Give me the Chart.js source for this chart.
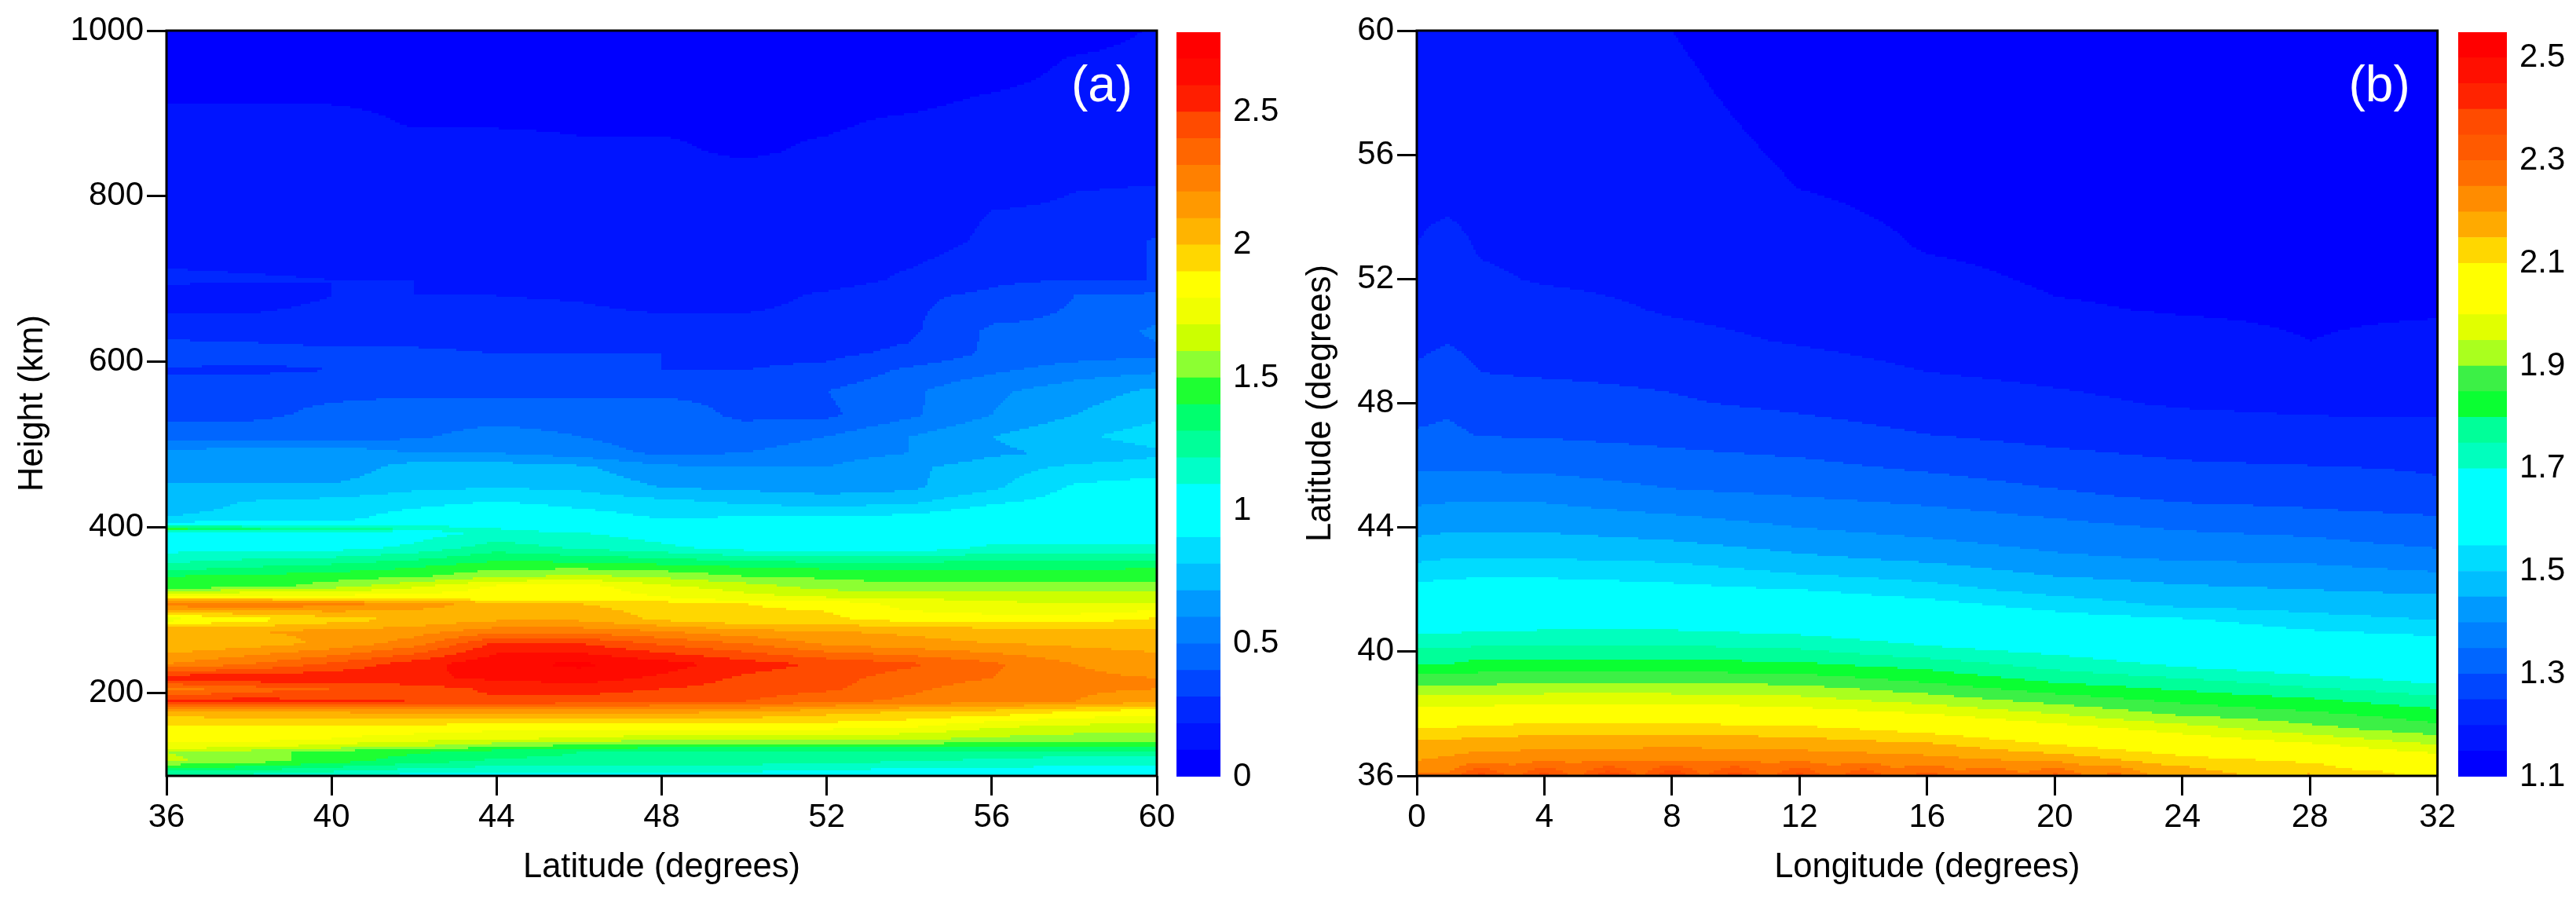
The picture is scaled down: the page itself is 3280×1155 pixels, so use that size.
<!DOCTYPE html>
<html>
<head>
<meta charset="utf-8">
<title>Contour panels</title>
<script src="https://cdn.jsdelivr.net/npm/chart.js@4"></script>
<style>
  html, body { margin: 0; padding: 0; background: #fff; }
  body { width: 3280px; height: 1155px; position: relative; overflow: hidden; }
  canvas { position: absolute; top: 0; }
</style>
</head>
<body>
<canvas id="panelA" width="1500" height="1155" style="left:0"></canvas>
<canvas id="barA" width="130" height="1155" style="left:1498px"></canvas>
<canvas id="panelB" width="1490" height="1155" style="left:1640px"></canvas>
<canvas id="barB" width="150" height="1155" style="left:3130px"></canvas>
<script>
// panel (a): height vs latitude
const latitudes = [36, 38, 40, 42, 44, 46, 48, 50, 52, 54, 56, 58, 60];
const heights = [100, 118, 129, 135, 145, 160, 178, 190, 205, 218, 235, 260, 275, 289, 308, 314, 329, 341, 354, 376, 394, 399, 404, 410, 428, 448, 473, 490, 510, 536, 565, 590, 610, 637, 680, 699, 746, 783, 805, 855, 891, 917, 964, 1000];
const valuesA = [
  [1.15, 1.15, 1.1, 1.05, 1.05, 1.05, 1.05, 1.05, 1.0, 1.0, 1.0, 1.0, 1.0],
  [1.62, 1.55, 1.45, 1.35, 1.28, 1.28, 1.28, 1.25, 1.25, 1.2, 1.18, 1.15, 1.15],
  [1.6, 1.55, 1.45, 1.42, 1.35, 1.3, 1.3, 1.3, 1.3, 1.3, 1.28, 1.25, 1.25],
  [1.75, 1.72, 1.65, 1.6, 1.5, 1.45, 1.42, 1.42, 1.42, 1.42, 1.42, 1.42, 1.42],
  [1.85, 1.85, 1.8, 1.75, 1.72, 1.68, 1.65, 1.65, 1.65, 1.62, 1.58, 1.55, 1.55],
  [1.88, 1.88, 1.88, 1.88, 1.85, 1.85, 1.85, 1.85, 1.85, 1.82, 1.72, 1.68, 1.65],
  [2.05, 2.12, 2.12, 2.13, 2.15, 2.15, 2.13, 2.12, 2.05, 2.0, 1.98, 1.9, 1.85],
  [2.55, 2.55, 2.52, 2.5, 2.48, 2.45, 2.42, 2.4, 2.32, 2.28, 2.22, 2.2, 2.12],
  [2.25, 2.35, 2.4, 2.45, 2.52, 2.55, 2.5, 2.46, 2.42, 2.32, 2.25, 2.22, 2.2],
  [2.58, 2.58, 2.58, 2.58, 2.62, 2.65, 2.58, 2.48, 2.44, 2.35, 2.3, 2.22, 2.2],
  [2.2, 2.3, 2.42, 2.55, 2.68, 2.72, 2.65, 2.55, 2.48, 2.42, 2.32, 2.2, 2.15],
  [2.0, 2.05, 2.12, 2.25, 2.52, 2.5, 2.38, 2.3, 2.18, 2.13, 2.1, 2.08, 2.06],
  [2.1, 2.1, 2.12, 2.15, 2.25, 2.25, 2.2, 2.12, 2.1, 2.08, 2.05, 2.02, 2.02],
  [1.75, 1.85, 1.95, 2.02, 2.08, 2.08, 1.98, 1.92, 1.92, 1.86, 1.84, 1.85, 1.92],
  [2.3, 2.3, 2.25, 2.15, 2.05, 2.0, 1.95, 1.9, 1.88, 1.75, 1.72, 1.7, 1.7],
  [1.95, 1.95, 1.9, 1.88, 1.85, 1.85, 1.82, 1.75, 1.72, 1.7, 1.68, 1.66, 1.65],
  [1.42, 1.45, 1.55, 1.68, 1.82, 1.85, 1.72, 1.65, 1.55, 1.52, 1.55, 1.55, 1.55],
  [1.4, 1.42, 1.45, 1.48, 1.58, 1.62, 1.58, 1.5, 1.48, 1.46, 1.46, 1.46, 1.46],
  [1.22, 1.28, 1.32, 1.38, 1.45, 1.45, 1.42, 1.38, 1.36, 1.36, 1.36, 1.36, 1.38],
  [1.05, 1.05, 1.05, 1.12, 1.25, 1.18, 1.12, 1.05, 1.02, 1.02, 1.12, 1.12, 1.12],
  [1.05, 1.05, 1.05, 1.05, 1.12, 1.1, 1.05, 1.02, 1.0, 1.0, 1.02, 1.02, 1.02],
  [1.5, 1.35, 1.3, 1.2, 1.1, 1.05, 1.02, 1.0, 1.0, 1.0, 1.02, 1.02, 1.05],
  [0.95, 0.98, 1.0, 1.02, 1.02, 1.0, 1.0, 0.98, 0.98, 0.98, 1.0, 1.0, 1.02],
  [0.82, 0.85, 0.87, 0.95, 1.0, 0.95, 0.9, 0.92, 0.92, 0.95, 1.0, 1.0, 1.0],
  [0.72, 0.82, 0.85, 0.88, 0.92, 0.88, 0.85, 0.8, 0.78, 0.8, 0.9, 0.95, 0.98],
  [0.72, 0.72, 0.72, 0.78, 0.8, 0.78, 0.7, 0.68, 0.65, 0.68, 0.78, 0.92, 0.95],
  [0.62, 0.62, 0.62, 0.75, 0.75, 0.72, 0.62, 0.6, 0.6, 0.68, 0.75, 0.82, 0.85],
  [0.62, 0.68, 0.68, 0.6, 0.6, 0.55, 0.48, 0.5, 0.55, 0.6, 0.68, 0.72, 0.78],
  [0.45, 0.45, 0.45, 0.48, 0.55, 0.5, 0.45, 0.45, 0.5, 0.6, 0.7, 0.78, 0.85],
  [0.38, 0.38, 0.42, 0.45, 0.45, 0.44, 0.45, 0.38, 0.38, 0.48, 0.6, 0.7, 0.78],
  [0.38, 0.38, 0.38, 0.38, 0.38, 0.38, 0.38, 0.38, 0.4, 0.48, 0.58, 0.65, 0.72],
  [0.28, 0.28, 0.3, 0.35, 0.35, 0.35, 0.3, 0.3, 0.32, 0.42, 0.48, 0.55, 0.58],
  [0.38, 0.35, 0.32, 0.32, 0.3, 0.3, 0.3, 0.28, 0.28, 0.32, 0.42, 0.45, 0.48],
  [0.25, 0.25, 0.25, 0.25, 0.25, 0.25, 0.25, 0.25, 0.25, 0.28, 0.42, 0.42, 0.52],
  [0.15, 0.15, 0.2, 0.2, 0.2, 0.19, 0.15, 0.15, 0.22, 0.28, 0.32, 0.4, 0.42],
  [0.22, 0.21, 0.2, 0.2, 0.18, 0.18, 0.15, 0.15, 0.15, 0.22, 0.28, 0.3, 0.3],
  [0.15, 0.15, 0.15, 0.15, 0.15, 0.15, 0.15, 0.15, 0.15, 0.15, 0.22, 0.22, 0.31],
  [0.15, 0.15, 0.15, 0.15, 0.15, 0.15, 0.15, 0.12, 0.12, 0.15, 0.2, 0.22, 0.22],
  [0.15, 0.15, 0.15, 0.14, 0.14, 0.14, 0.14, 0.14, 0.14, 0.14, 0.15, 0.2, 0.21],
  [0.14, 0.14, 0.14, 0.13, 0.13, 0.11, 0.11, 0.09, 0.11, 0.13, 0.14, 0.15, 0.15],
  [0.13, 0.13, 0.13, 0.09, 0.09, 0.09, 0.09, 0.09, 0.09, 0.11, 0.13, 0.13, 0.13],
  [0.09, 0.09, 0.09, 0.08, 0.08, 0.08, 0.08, 0.08, 0.08, 0.08, 0.11, 0.13, 0.13],
  [0.05, 0.05, 0.05, 0.05, 0.05, 0.05, 0.05, 0.05, 0.05, 0.05, 0.05, 0.11, 0.13],
  [0.03, 0.03, 0.03, 0.03, 0.03, 0.03, 0.03, 0.03, 0.03, 0.03, 0.03, 0.05, 0.11]
];
const latTicksA = [36, 40, 44, 48, 52, 56, 60];
const heightTicks = [200, 400, 600, 800, 1000];
const levelTicksA = [0, 0.5, 1, 1.5, 2, 2.5];
const coloursA = ['#0000ff', '#0014ff', '#0028ff', '#0046ff', '#0066ff', '#0080ff', '#0099ff', '#00beff', '#00dcff', '#00ffff', '#00ffff', '#00ffc8', '#00ff99', '#00ff6e', '#1eff32', '#8cff32', '#ccff00', '#f0ff00', '#ffff00', '#ffd700', '#ffb400', '#ff9900', '#ff8000', '#ff6600', '#ff4b00', '#ff1e00', '#ff0a00', '#ff0000'];

// panel (b): latitude vs longitude
const longitudes = [0, 1, 2, 4, 8, 12, 16, 20, 24, 28, 32];
const longitudesEdge = [0, 1, 2, 3, 4, 5, 6, 7, 8, 9, 10, 11, 12, 13, 14, 15, 16, 17, 18, 19, 20, 21, 22, 23, 24, 25, 26, 27, 28, 29, 30, 31, 32];
const latitudesB = [36, 36.5, 37, 37.5, 38, 38.5, 39, 39.5, 40, 41, 41.5, 42, 42.5, 43, 43.5, 44, 44.5, 45, 46, 47, 48, 49, 50, 51, 52, 53, 54, 55, 56, 58, 60];
const valuesB = [
  [2.26, 2.26, 2.38, 2.28, 2.38, 2.28, 2.4, 2.29, 2.42, 2.29, 2.39, 2.28, 2.38, 2.27, 2.36, 2.27, 2.33, 2.27, 2.31, 2.26, 2.32, 2.25, 2.27, 2.2, 2.2, 2.17, 2.15, 2.14, 2.16, 2.12, 2.12, 2.1, 2.08],
  [2.2, 2.21, 2.23, 2.24, 2.25, 2.24, 2.22, 2.19, 2.12, 2.09, 2.04],
  [2.17, 2.17, 2.18, 2.18, 2.19, 2.18, 2.16, 2.1, 2.05, 2.01, 1.95],
  [2.11, 2.11, 2.12, 2.13, 2.13, 2.12, 2.08, 2.03, 1.98, 1.92, 1.87],
  [2.03, 2.03, 2.04, 2.05, 2.05, 2.03, 2, 1.95, 1.89, 1.86, 1.82],
  [1.96, 1.96, 1.96, 1.97, 1.97, 1.96, 1.92, 1.87, 1.83, 1.8, 1.76],
  [1.89, 1.89, 1.89, 1.9, 1.9, 1.89, 1.85, 1.8, 1.77, 1.73, 1.695],
  [1.81, 1.81, 1.83, 1.83, 1.83, 1.82, 1.79, 1.74, 1.7, 1.67, 1.65],
  [1.76, 1.76, 1.77, 1.77, 1.77, 1.76, 1.72, 1.69, 1.65, 1.62, 1.6],
  [1.66, 1.66, 1.66, 1.67, 1.67, 1.65, 1.62, 1.58, 1.56, 1.52, 1.5],
  [1.61, 1.61, 1.62, 1.625, 1.62, 1.6, 1.57, 1.53, 1.49, 1.48, 1.47],
  [1.57, 1.57, 1.58, 1.58, 1.565, 1.55, 1.52, 1.48, 1.46, 1.45, 1.44],
  [1.53, 1.54, 1.54, 1.54, 1.53, 1.5, 1.48, 1.445, 1.43, 1.42, 1.405],
  [1.49, 1.5, 1.5, 1.5, 1.49, 1.46, 1.44, 1.41, 1.395, 1.39, 1.37],
  [1.46, 1.47, 1.47, 1.47, 1.455, 1.43, 1.41, 1.385, 1.37, 1.36, 1.34],
  [1.435, 1.44, 1.44, 1.44, 1.425, 1.4, 1.38, 1.365, 1.345, 1.335, 1.315],
  [1.41, 1.415, 1.415, 1.415, 1.395, 1.375, 1.36, 1.34, 1.315, 1.305, 1.295],
  [1.385, 1.39, 1.39, 1.39, 1.36, 1.35, 1.335, 1.31, 1.29, 1.285, 1.26],
  [1.34, 1.34, 1.34, 1.335, 1.32, 1.31, 1.29, 1.27, 1.255, 1.25, 1.245],
  [1.305, 1.31, 1.297, 1.295, 1.285, 1.27, 1.25, 1.235, 1.225, 1.215, 1.213],
  [1.28, 1.29, 1.27, 1.27, 1.255, 1.24, 1.225, 1.21, 1.195, 1.19, 1.19],
  [1.255, 1.27, 1.25, 1.245, 1.24, 1.217, 1.2, 1.19, 1.18, 1.17, 1.175],
  [1.24, 1.248, 1.235, 1.23, 1.21, 1.197, 1.185, 1.17, 1.16, 1.15, 1.158],
  [1.225, 1.23, 1.22, 1.212, 1.197, 1.188, 1.17, 1.153, 1.148, 1.146, 1.147],
  [1.213, 1.22, 1.205, 1.197, 1.192, 1.178, 1.158, 1.146, 1.144, 1.142, 1.143],
  [1.2, 1.21, 1.197, 1.193, 1.187, 1.168, 1.148, 1.142, 1.139, 1.138, 1.139],
  [1.197, 1.2, 1.193, 1.19, 1.182, 1.158, 1.144, 1.137, 1.135, 1.134, 1.135],
  [1.193, 1.195, 1.19, 1.187, 1.176, 1.149, 1.14, 1.133, 1.13, 1.13, 1.13],
  [1.19, 1.19, 1.186, 1.185, 1.17, 1.143, 1.136, 1.128, 1.127, 1.126, 1.127],
  [1.18, 1.18, 1.18, 1.18, 1.16, 1.13, 1.128, 1.12, 1.12, 1.118, 1.12],
  [1.17, 1.17, 1.17, 1.165, 1.15, 1.12, 1.12, 1.11, 1.11, 1.11, 1.11]
];
const lonTicks = [0, 4, 8, 12, 16, 20, 24, 28, 32];
const latTicksB = [36, 40, 44, 48, 52, 56, 60];
const levelTicksB = [1.1, 1.3, 1.5, 1.7, 1.9, 2.1, 2.3, 2.5];
const coloursB = ['#0000ff', '#0014ff', '#0028ff', '#0046ff', '#0066ff', '#0080ff', '#0099ff', '#00beff', '#00dcff', '#00ffff', '#00ffff', '#00ffff', '#00ffbe', '#00ff99', '#0aff32', '#3cf046', '#aaff1e', '#e1ff00', '#ffff00', '#ffff00', '#ffd700', '#ffaa00', '#ff8c00', '#ff6e00', '#ff5a00', '#ff4b00', '#ff2300', '#ff0f00', '#ff0000'];

const tickFont = { family: '"Liberation Sans", Arial, sans-serif', size: 42 };
const titleFont = { family: '"Liberation Sans", Arial, sans-serif', size: 43.5 };

function lerpRow(row, xs, x) {
  let i = 0;
  while (i < xs.length - 2 && xs[i + 1] < x) i++;
  const t = (x - xs[i]) / (xs[i + 1] - xs[i]);
  return row[i] + (row[i + 1] - row[i]) * t;
}

// filled contour: every few pixels ask the scales where we are, look up the band
const contourFill = {
  id: 'contourFill',
  beforeDatasetsDraw(chart, args, opts) {
    const { ctx, chartArea: area, scales: { x, y } } = chart;
    const cell = 3;
    ctx.save();
    for (let py = area.top; py < area.bottom; py += cell) {
      const yVal = y.getValueForPixel(py + cell / 2);
      let r = 0;
      while (r < opts.ys.length - 2 && opts.ys[r + 1] < yVal) r++;
      const t = Math.min(1, Math.max(0, (yVal - opts.ys[r]) / (opts.ys[r + 1] - opts.ys[r])));
      for (let px = area.left; px < area.right; px += cell) {
        const xVal = x.getValueForPixel(px + cell / 2);
        const lo = lerpRow(opts.rows[r], opts.xsFor(opts.rows[r]), xVal);
        const hi = lerpRow(opts.rows[r + 1], opts.xsFor(opts.rows[r + 1]), xVal);
        const v = lo + (hi - lo) * t;
        const k = Math.max(0, Math.min(opts.colours.length - 1, Math.floor((v - opts.min) / opts.step)));
        ctx.fillStyle = opts.colours[k];
        ctx.fillRect(px, py, Math.min(cell + 1, area.right - px), Math.min(cell + 1, area.bottom - py));
      }
    }
    ctx.restore();
  },
  afterDatasetsDraw(chart, args, opts) {
    const { ctx, chartArea: area } = chart;
    ctx.save();
    ctx.lineWidth = 3;
    ctx.strokeStyle = '#000';
    ctx.strokeRect(area.left, area.top, area.right - area.left, area.bottom - area.top);
    ctx.fillStyle = '#fff';
    ctx.font = '64px "Liberation Sans", Arial, sans-serif';
    ctx.textAlign = 'center';
    ctx.textBaseline = 'middle';
    ctx.fillText(opts.tag, area.right - opts.tagRight, area.top + 72);
    ctx.restore();
  }
};

function gridPoints(rows, ys, xsFor) {
  const pts = [];
  rows.forEach((row, r) => {
    const xs = xsFor(row);
    row.forEach((v, c) => pts.push({ x: xs[c], y: ys[r], v: v }));
  });
  return pts;
}

function panel(id, cfg) {
  const pad = cfg.padLeft;
  new Chart(document.getElementById(id), {
    type: 'scatter',
    data: { datasets: [{ data: gridPoints(cfg.rows, cfg.ys, cfg.xsFor), pointRadius: 0 }] },
    plugins: [contourFill],
    options: {
      responsive: false,
      animation: false,
      layout: { padding: { top: 39, right: cfg.padRight, left: 0, bottom: 0 } },
      plugins: {
        legend: { display: false },
        tooltip: { enabled: false },
        contourFill: { rows: cfg.rows, ys: cfg.ys, xsFor: cfg.xsFor, colours: cfg.colours, min: cfg.min, step: cfg.step, tag: cfg.tag, tagRight: cfg.tagRight }
      },
      scales: {
        x: {
          type: 'linear', min: cfg.xMin, max: cfg.xMax,
          afterBuildTicks: s => { s.ticks = cfg.xTicks.map(v => ({ value: v })); },
          afterFit: s => { s.height = 167; },
          border: { display: false },
          grid: { drawOnChartArea: false, tickLength: 25, tickWidth: 3, tickColor: '#000' },
          ticks: { color: '#000', font: tickFont, padding: 3, maxRotation: 0, autoSkip: false, callback: v => String(v) },
          title: { display: true, text: cfg.xTitle, color: '#000', font: titleFont, padding: { top: 0, bottom: 24 } }
        },
        y: {
          type: 'linear', min: cfg.yMin, max: cfg.yMax,
          afterBuildTicks: s => { s.ticks = cfg.yTicks.map(v => ({ value: v })); },
          afterFit: s => { s.width = pad; },
          border: { display: false },
          grid: { drawOnChartArea: false, tickLength: 25, tickWidth: 3, tickColor: '#000' },
          ticks: { color: '#000', font: tickFont, padding: 4, autoSkip: false, callback: v => String(v) },
          title: { display: true, text: cfg.yTitle, color: '#000', font: titleFont, padding: { top: 16, bottom: 0 } }
        }
      }
    }
  });
}

function colourBar(id, cfg) {
  new Chart(document.getElementById(id), {
    type: 'bar',
    data: {
      labels: [''],
      datasets: cfg.colours.map((c, i) => ({
        data: [[cfg.min + i * cfg.step, cfg.min + (i + 1) * cfg.step]],
        backgroundColor: c,
        grouped: false,
        barPercentage: 1,
        categoryPercentage: 1
      }))
    },
    options: {
      responsive: false,
      animation: false,
      layout: { padding: { top: 41, bottom: 166, left: 0, right: 0 } },
      plugins: { legend: { display: false }, tooltip: { enabled: false } },
      scales: {
        x: { display: false },
        y: {
          position: 'right',
          min: cfg.min, max: cfg.min + cfg.colours.length * cfg.step,
          afterBuildTicks: s => { s.ticks = cfg.ticks.map(v => ({ value: v })); },
          afterFit: s => { s.width = cfg.axisWidth; },
          border: { display: false },
          grid: { display: false },
          ticks: { color: '#000', font: tickFont, padding: 8, autoSkip: false, callback: v => String(v) }
        }
      }
    }
  });
}

panel('panelA', {
  rows: valuesA, ys: heights, xsFor: () => latitudes, colours: coloursA, min: 0, step: 0.1,
  xMin: 36, xMax: 60, yMin: 100, yMax: 1000, xTicks: latTicksA, yTicks: heightTicks,
  xTitle: 'Latitude (degrees)', yTitle: 'Height (km)', tag: '(a)', tagRight: 70, padLeft: 212, padRight: 27
});
colourBar('barA', { colours: coloursA, min: 0, step: 0.1, ticks: levelTicksA, axisWidth: 74 });

panel('panelB', {
  rows: valuesB, ys: latitudesB, xsFor: row => (row.length === longitudesEdge.length ? longitudesEdge : longitudes), colours: coloursB, min: 1.1, step: 0.05,
  xMin: 0, xMax: 32, yMin: 36, yMax: 60, xTicks: lonTicks, yTicks: latTicksB,
  xTitle: 'Longitude (degrees)', yTitle: 'Latitude (degrees)', tag: '(b)', tagRight: 74, padLeft: 164, padRight: 25
});
colourBar('barB', { colours: coloursB, min: 1.1, step: 0.05, ticks: levelTicksB, axisWidth: 88 });
</script>
</body>
</html>
